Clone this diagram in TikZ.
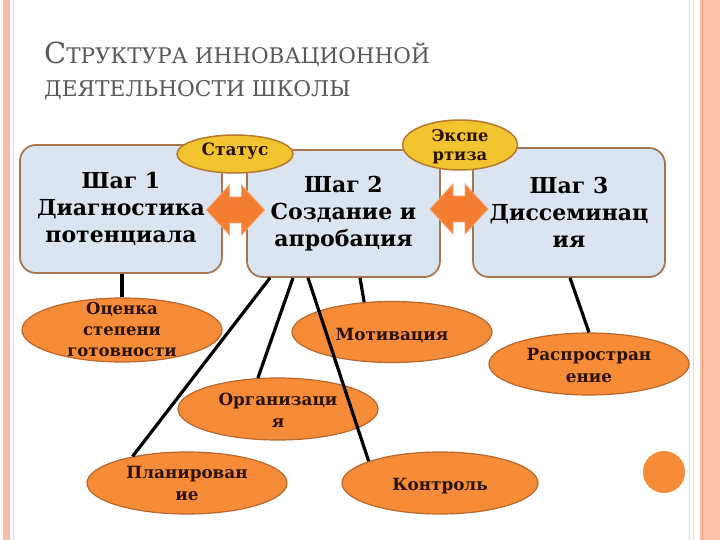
\documentclass[tikz,border=0pt]{standalone}
\usepackage{fontspec}
\setmainfont{DejaVu Serif}
\usetikzlibrary{shapes.geometric}
\definecolor{boxfill}{HTML}{DBE5F1}
\definecolor{boxline}{HTML}{A8764E}
\definecolor{goldfill}{HTML}{F2C42F}
\definecolor{goldline}{HTML}{B57A2C}
\definecolor{orfill}{HTML}{F68C38}
\definecolor{orline}{HTML}{B8672D}
\definecolor{arrfill}{HTML}{F37E32}
\definecolor{arrline}{HTML}{F8A670}
\definecolor{pinkA}{HTML}{F9C0A8}
\definecolor{pinkB}{HTML}{F4A080}
\definecolor{titlegray}{HTML}{595959}
\definecolor{inktext}{HTML}{2A1206}
\tikzset{
  stepbox/.style={draw=boxline, line width=1.8pt, fill=boxfill, rounded corners=16pt,
    align=center, inner sep=0pt, font=\bfseries\fontsize{22}{27}\selectfont, text=black},
  goldoval/.style={ellipse, draw=goldline, line width=1.5pt, fill=goldfill, inner sep=0pt},
  oval/.style={ellipse, draw=orline, line width=1.2pt, fill=orfill, inner sep=0pt,
    minimum width=200pt, minimum height=62pt},
  ovaltext/.style={align=center, inner sep=0pt, font=\bfseries\fontsize{16.8}{21.5}\selectfont, text=inktext},
  link/.style={line width=3.2pt, black},
  titletext/.style={anchor=base west, inner sep=0pt, text=titlegray},
  dblarrow/.pic={\draw[arrline, fill=arrfill, line width=0.8pt]
    (-29,0) -- (-6,-25) -- (-6,-13) -- (6,-13) -- (6,-25) -- (29,0) -- (6,25)
    -- (6,13) -- (-6,13) -- (-6,25) -- cycle;}
}
\begin{document}
\begin{tikzpicture}[x=1pt,y=-1pt]
\useasboundingbox (0,0) rectangle (720,540);
\fill[white] (0,0) rectangle (720,540);
% borders
\fill[pinkA] (3,0) rectangle (10,540);
\draw[pinkA!60, line width=1pt] (13.5,0) -- (13.5,540);
\draw[pinkA!70, line width=1pt] (689.5,0) -- (689.5,540);
\draw[pinkA!70, line width=1pt] (693.5,0) -- (693.5,540);
\fill[pinkA] (700,0) rectangle (720,540);
\draw[pinkB, line width=1pt] (702.5,0) -- (702.5,540);
% title
\node[titletext, font=\fontsize{29}{29}\selectfont] (t1) at (44,64)
  {С{\fontsize{21.5}{21.5}\selectfont ТРУКТУРА ИННОВАЦИОННОЙ}};
\node[titletext, font=\fontsize{21.7}{21.7}\selectfont] (t2) at (44,97)
  {ДЕЯТЕЛЬНОСТИ ШКОЛЫ};
% step boxes
\node[stepbox, minimum width=202pt, minimum height=128pt] (b1) at (121,209)
  {Шаг 1\\Диагностика\\потенциала};
\node[stepbox, minimum width=193pt, minimum height=127pt] (b2) at (343.5,213.5)
  {Шаг 2\\Создание и\\апробация};
\node[stepbox, minimum width=192pt, minimum height=129pt] (b3) at (569,212.5)
  {Шаг 3\\Диссеминац\\ия};
% double arrows
\pic at (235.5,210) {dblarrow};
\pic at (459,209) {dblarrow};
% gold ovals
\node[goldoval, minimum width=116pt, minimum height=38pt] (st) at (235,154) {};
\node[goldoval, minimum width=115pt, minimum height=50pt] (ex) at (460,145) {};
% orange ovals
\node[oval, minimum height=64pt] (ots) at (122,330) {};
\node[oval, minimum height=61pt] (mot) at (392,332) {};
\node[oval] (org) at (278,409) {};
\node[oval] (plan) at (187,483) {};
\node[oval, minimum width=196pt] (ctrl) at (440,483) {};
\node[oval] (dist) at (589,364) {};
\fill[orfill] (664,472) circle[radius=21pt];
% connectors
\draw[link] ([xshift=1pt]b1.south) -- (ots.north);
\draw[link] ([xshift=-73.5pt]b2.south) -- (plan.154);
\draw[link] ([xshift=-50.5pt]b2.south) -- (org.123);
\draw[link] ([xshift=-35.5pt]b2.south) -- (ctrl.163.5);
\draw[link] ([xshift=16.5pt]b2.south) -- (mot.133);
\draw[link] ([xshift=1pt]b3.south) -- (dist.north);
% oval texts
\node[ovaltext, font=\bfseries\fontsize{17}{20}\selectfont] (st-t) at (235,151) {Статус};
\node[ovaltext, font=\bfseries\fontsize{16.3}{19}\selectfont] (ex-t) at (460,147) {Экспе\\ртиза};
\node[ovaltext, font=\bfseries\fontsize{16.5}{21}\selectfont] (ots-t) at (122,329) {Оценка\\степени\\готовности};
\node[ovaltext] (mot-t) at (392,336) {Мотивация};
\node[ovaltext, font=\bfseries\fontsize{16.8}{22}\selectfont] (org-t) at (278,410) {Организаци\\я};
\node[ovaltext, font=\bfseries\fontsize{16.8}{22}\selectfont] (plan-t) at (187,483) {Планирован\\ие};
\node[ovaltext] (ctrl-t) at (440,486) {Контроль};
\node[ovaltext, font=\bfseries\fontsize{16.8}{22}\selectfont] (dist-t) at (589,365) {Распростран\\ение};
\end{tikzpicture}
\end{document}
